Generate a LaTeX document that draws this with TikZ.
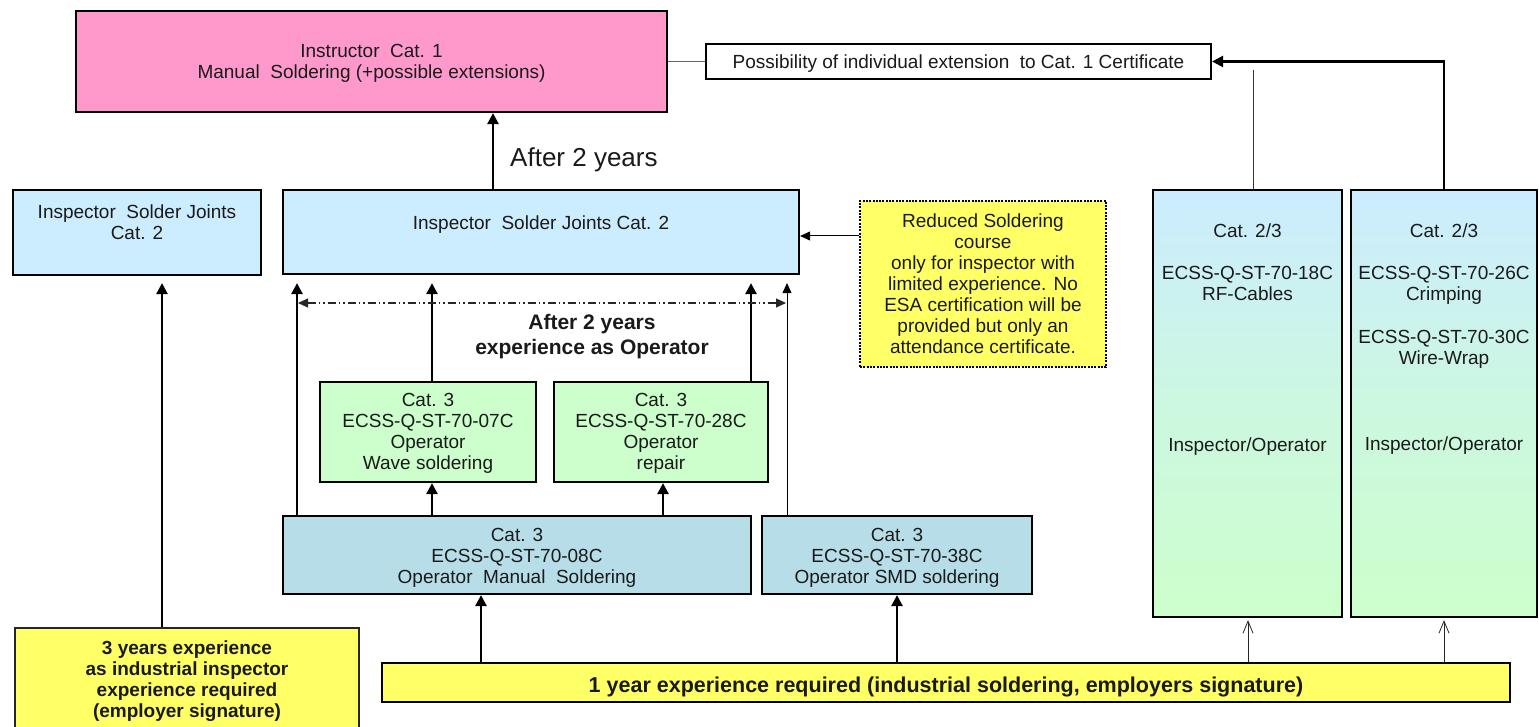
\documentclass[tikz,border=0pt]{standalone}
\usepackage{fontspec}
\setmainfont{Liberation Sans}
\usetikzlibrary{arrows.meta}
\definecolor{cpink}{HTML}{FF99CC}
\definecolor{clblue}{HTML}{CCECFF}
\definecolor{cgreen}{HTML}{CCFFCC}
\definecolor{cteal}{HTML}{B7DEE8}
\definecolor{cyel}{HTML}{FFFF66}
\definecolor{txtc}{HTML}{1A1A1A}
\newcommand\blk[2]{\raisebox{#1}[0pt][0pt]{\begin{tabular}[t]{@{}c@{}}#2\end{tabular}}}
\tikzset{
  box/.style={draw=black, line width=2.2pt, inner sep=0pt, text=txtc,
    font=\fontsize{19}{21}\selectfont},
  bboxb/.style={box, font=\fontsize{19}{21}\selectfont\bfseries},
  thk/.style={line width=2.4pt, draw=black, -{Triangle[length=11pt,width=11pt]}},
  thn/.style={line width=1pt, draw=black, -{Triangle[length=10pt,width=9pt]}},
  opn/.style={line width=0.8pt, draw=black!85, -{Straight Barb[length=12pt,width=10pt]}},
  ddash/.style={line width=1.1pt, draw=black!85,
    dash pattern=on 8pt off 3pt on 1.5pt off 3pt on 1.5pt off 3pt,
    {Triangle[length=10pt,width=9pt]}-{Triangle[length=10pt,width=9pt]}},
  plain/.style={inner sep=0pt, text=txtc}
}
\begin{document}
\begin{tikzpicture}[x=1pt,y=-1pt]
\useasboundingbox (0,0) rectangle (1539,727);
\fill[white] (0,0) rectangle (1539,727);

% boxes
\node[box, fill=cpink, minimum width=591pt, minimum height=101pt] (pink) at (371.5,61.5)
  {\blk{3.7pt}{Instructor\ \ Cat. 1\\Manual\ \ Soldering (+possible extensions)}};
\node[box, fill=white, minimum width=505pt, minimum height=35pt] (poss) at (958.5,61.5)
  {\blk{-7.3pt}{Possibility of individual extension\ \ to Cat. 1 Certificate}};
\node[box, fill=clblue, minimum width=248pt, minimum height=85pt] (linsp) at (137,232.5)
  {\blk{13.7pt}{Inspector\ \ Solder Joints\\Cat. 2}};
\node[box, fill=clblue, minimum width=516pt, minimum height=84pt] (minsp) at (541,232)
  {\blk{2.2pt}{Inspector\ \ Solder Joints Cat. 2}};
\node[box, fill=cyel, line width=2pt, dash pattern=on 2pt off 1.3pt,
  minimum width=246pt, minimum height=166pt] (red) at (983,284)
  {\blk{56.2pt}{Reduced Soldering\\course\\only for inspector with\\limited experience. No\\ESA certification will be\\provided but only an\\attendance certificate.}};
\node[box, fill=cgreen, minimum width=216pt, minimum height=100pt] (wave) at (428,432)
  {\blk{25.2pt}{Cat. 3\\ECSS-Q-ST-70-07C\\Operator\\Wave soldering}};
\node[box, fill=cgreen, minimum width=214pt, minimum height=100pt] (rep) at (661,432)
  {\blk{25.2pt}{Cat. 3\\ECSS-Q-ST-70-28C\\Operator\\repair}};
\node[box, fill=cteal, minimum width=468pt, minimum height=78pt] (m08) at (517,555)
  {\blk{13.2pt}{Cat. 3\\ECSS-Q-ST-70-08C\\Operator\ \ Manual\ \ Soldering}};
\node[box, fill=cteal, minimum width=270pt, minimum height=78pt] (smd) at (897,555)
  {\blk{13.2pt}{Cat. 3\\ECSS-Q-ST-70-38C\\Operator SMD soldering}};
\node[box, top color=clblue, bottom color=cgreen, middle color=clblue!40!cgreen,
  minimum width=189pt, minimum height=427pt] (r1) at (1247.5,403.5)
  {\blk{165.7pt}{Cat. 2/3\\[21pt]ECSS-Q-ST-70-18C\\RF-Cables\\[130pt]Inspector/Operator}};
\node[box, top color=clblue, bottom color=cgreen, middle color=clblue!40!cgreen,
  minimum width=186pt, minimum height=427pt] (r2) at (1444,403.5)
  {\blk{165.7pt}{Cat. 2/3\\[21pt]ECSS-Q-ST-70-26C\\Crimping\\[22pt]ECSS-Q-ST-70-30C\\Wire-Wrap\\[65pt]Inspector/Operator}};
\node[bboxb, fill=cyel, line width=2pt, font=\fontsize{21.5}{24}\selectfont\bfseries,
  minimum width=1128pt, minimum height=39pt] (bar) at (946,682.5)
  {\blk{-10.2pt}{1 year experience required (industrial soldering, employers signature)}};
\node[bboxb, fill=cyel, line width=1.2pt, draw=black!85,
  minimum width=344pt, minimum height=117pt] (ly) at (187,686.5)
  {\blk{31.7pt}{3 years experience\\as industrial inspector\\experience required\\(employer signature)}};

% free labels
\node[plain, anchor=west, font=\fontsize{26}{30}\selectfont] (lab1) at (510,157)
  {\blk{-9.3pt}{After 2 years}};
\node[plain, font=\fontsize{21}{25}\selectfont\bfseries] (lab2) at (592,334)
  {\blk{4.5pt}{After 2 years\\experience as Operator}};

% x positions of connectors
\coordinate (xa) at (493,0);
\coordinate (xl) at (162,0);
\coordinate (x1) at (297,0);
\coordinate (x2) at (432,0);
\coordinate (x3) at (751,0);
\coordinate (x4) at (787,0);
\coordinate (x5) at (663,0);
\coordinate (x6) at (481,0);
\coordinate (x7) at (897,0);
\coordinate (x8) at (1248,0);
\coordinate (x9) at (1444,0);
\coordinate (yr) at (0,236);
\coordinate (r1top) at (1253,70);
\coordinate (ddl) at (298,303);
\coordinate (ddr) at (786,303);

% connectors
\draw[thk] (minsp.north -| xa) -- (pink.south -| xa);
\draw[thk, shorten >=7pt] (ly.north -| xl) -- (linsp.south -| xl);
\draw[thk, shorten >=8pt] (m08.north -| x1) -- (minsp.south -| x1);
\draw[thk, shorten >=8pt] (wave.north -| x2) -- (minsp.south -| x2);
\draw[thk, shorten >=8pt] (rep.north -| x3) -- (minsp.south -| x3);
\draw[thn, shorten >=8pt] (smd.north -| x4) -- (minsp.south -| x4);
\draw[thk] (m08.north -| x2) -- (wave.south -| x2);
\draw[thk] (m08.north -| x5) -- (rep.south -| x5);
\draw[thk] (bar.north -| x6) -- (m08.south -| x6);
\draw[thk] (bar.north -| x7) -- (smd.south -| x7);
\draw[opn, shorten >=2pt] (bar.north -| x8) -- (r1.south -| x8);
\draw[opn, shorten >=2pt] (bar.north -| x9) -- (r2.south -| x9);
\draw[thn] (red.west |- yr) -- (minsp.east |- yr);
\draw[line width=1pt, draw=black!60] (pink.east) -- (poss.west);
\draw[thk] (r2.north) |- (poss.east);
\draw[line width=1pt, draw=black!80] (r1.north -| r1top) -- (r1top);
\draw[ddash] (ddl) -- (ddr);
\end{tikzpicture}
\end{document}
